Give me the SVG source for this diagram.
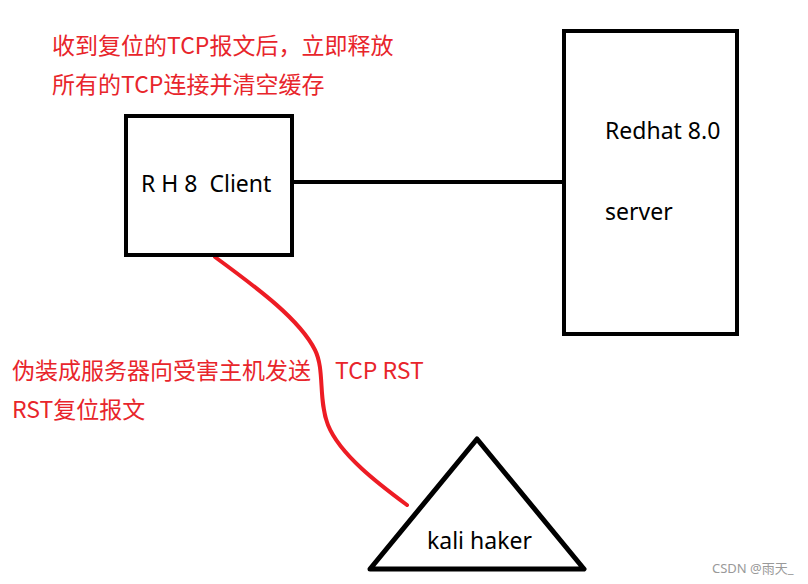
<svg xmlns="http://www.w3.org/2000/svg" width="808" height="584" viewBox="0 0 808 584">
<style>
.box{fill:#fff;stroke:#000;stroke-width:4}
.lbl{font-family:"Noto Sans","Open Sans","Noto Sans CJK SC",sans-serif;font-size:23px;fill:#000}
.red{font-family:"Noto Sans CJK SC","Noto Sans",sans-serif;font-size:23px;fill:#E8252B}
</style>
<rect width="808" height="584" fill="#fff"/>
<g id="connectors">
<line x1="290" y1="182" x2="564" y2="182" stroke="#000" stroke-width="4"/>
<path d="M215,257 C260,290 300,320 315,350 C325,370 318,400 328,425 C340,455 380,485 407,505" fill="none" stroke="#ED1C24" stroke-width="4" stroke-linecap="round"/>
</g>
<g id="client">
<rect class="box" x="126" y="116" width="166" height="139"/>
<text class="lbl" x="141" y="192" xml:space="preserve">R H 8  Client</text>
</g>
<g id="server">
<rect class="box" x="564" y="31" width="173" height="303"/>
<text class="lbl" x="605" y="139">Redhat 8.0</text>
<text class="lbl" x="605" y="220">server</text>
</g>
<g id="hacker">
<polygon points="477,439 584,569 370,569" fill="#fff" stroke="#000" stroke-width="5" stroke-linejoin="round"/>
<text class="lbl" x="427" y="549">kali haker</text>
</g>
<g id="notes">
<text class="red" x="52" y="54">收到复位的TCP报文后，立即释放</text>
<text class="red" x="52" y="93">所有的TCP连接并清空缓存</text>
<text class="red" x="12" y="379">伪装成服务器向受害主机发送</text>
<text class="red" x="335" y="379">TCP RST</text>
<text class="red" x="12" y="418">RST复位报文</text>
</g>
<text x="712" y="573" font-family="Noto Sans, Noto Sans CJK SC, sans-serif" font-size="13" fill="#999">CSDN @雨天_</text>
</svg>
